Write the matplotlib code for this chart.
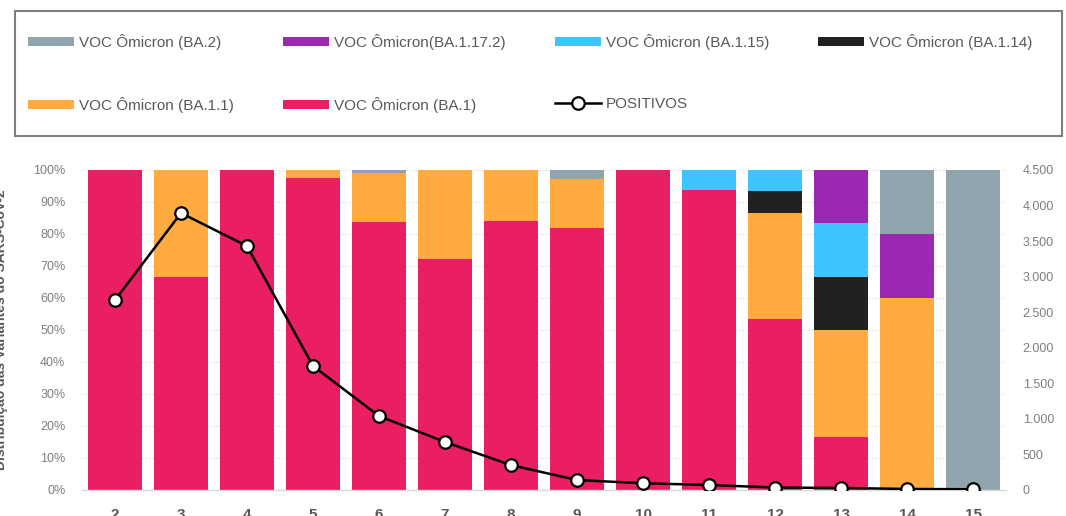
import numpy as np
import matplotlib
matplotlib.use("Agg")
import matplotlib.pyplot as plt
from matplotlib.patches import Rectangle
from matplotlib.ticker import FuncFormatter, MultipleLocator

plt.rcParams['font.family'] = ['Liberation Sans', 'DejaVu Sans']

# semanas epidemiológicas
semanas = [2, 3, 4, 5, 6, 7, 8, 9, 10, 11, 12, 13, 14, 15]

# distribuição (%) por variante, de baixo para cima
ba1 = [100, 66.7, 100, 97.6, 83.8, 72.2, 84.1, 82.0, 100, 93.9, 53.3, 16.7, 0, 0]
ba1_1 = [0, 33.3, 0, 2.4, 15.2, 27.8, 15.9, 15.1, 0, 0, 33.3, 33.3, 60, 0]
ba1_14 = [0, 0, 0, 0, 0, 0, 0, 0, 0, 0, 6.7, 16.7, 0, 0]
ba1_15 = [0, 0, 0, 0, 0, 0, 0, 0, 0, 6.1, 6.7, 16.7, 0, 0]
ba1_17_2 = [0, 0, 0, 0, 0, 0, 0, 0, 0, 0, 0, 16.6, 20, 0]
ba2 = [0, 0, 0, 0, 1.0, 0, 0, 2.9, 0, 0, 0, 0, 20, 100]

# número de positivos (eixo secundário)
positivos = [2670, 3895, 3430, 1745, 1040, 675, 350, 140, 95, 70, 35, 28, 15, 10]

series = [
    ("VOC Ômicron (BA.1)", ba1, "#E91E63"),
    ("VOC Ômicron (BA.1.1)", ba1_1, "#FFAB40"),
    ("VOC Ômicron (BA.1.14)", ba1_14, "#212121"),
    ("VOC Ômicron (BA.1.15)", ba1_15, "#40C4FF"),
    ("VOC Ômicron(BA.1.17.2)", ba1_17_2, "#9C27B0"),
    ("VOC Ômicron (BA.2)", ba2, "#90A4AE"),
]

W, H = 1066, 516
fig = plt.figure(figsize=(W / 100, H / 100), dpi=100)
ax = fig.add_axes([82 / W, (H - 490) / H, (1006 - 82) / W, 320 / H])

x = np.array(semanas)
base = np.zeros(len(semanas))
handles = {}
for nome, vals, cor in series:
    b = ax.bar(x, vals, width=0.83, bottom=base, color=cor, linewidth=0, label=nome)
    handles[nome] = b
    base += np.array(vals)

ax.set_xlim(1.5, 15.5)
ax.set_ylim(0, 100)
ax.yaxis.set_major_locator(MultipleLocator(10))
ax.yaxis.set_major_formatter(FuncFormatter(lambda v, p: f"{int(v)}%"))
ax.set_xticks(semanas)
ax.set_xticklabels([str(s) for s in semanas], fontsize=11, fontweight='bold', color='#595959')
ax.tick_params(axis='x', length=0, pad=13)
ax.tick_params(axis='y', length=0, labelsize=9, labelcolor='#7f7f7f', pad=12)
ax.grid(axis='y', linestyle=(0, (1, 2)), color='#d0d0d0', linewidth=0.8)
ax.set_axisbelow(True)
for s in ['top', 'right', 'left']:
    ax.spines[s].set_visible(False)
ax.spines['bottom'].set_color('#d9d9d9')
ax.spines['bottom'].set_linewidth(1.0)

ax2 = ax.twinx()
linha, = ax2.plot(x, positivos, color='black', linewidth=1.8, marker='o', markersize=9,
                  markerfacecolor='white', markeredgecolor='black', markeredgewidth=1.6,
                  label='POSITIVOS', zorder=5)
ax2.set_ylim(0, 4500)
ax2.yaxis.set_major_locator(MultipleLocator(500))
ax2.yaxis.set_major_formatter(FuncFormatter(lambda v, p: f"{int(v):,}".replace(",", ".")))
ax2.tick_params(axis='y', length=0, labelsize=9, labelcolor='#7f7f7f', pad=12)
for s in ['top', 'right', 'left', 'bottom']:
    ax2.spines[s].set_visible(False)

fig.text(1 / W, (H - 330) / H, "Distribuição das Variantes do SARS-CoV-2", rotation=90,
         ha='center', va='center', fontsize=10, fontweight='bold', color='#595959')

# legenda em linhas (matplotlib preenche por coluna)
ordem = ["VOC Ômicron (BA.2)", "VOC Ômicron (BA.1.1)",
         "VOC Ômicron(BA.1.17.2)", "VOC Ômicron (BA.1)",
         "VOC Ômicron (BA.1.15)", "POSITIVOS",
         "VOC Ômicron (BA.1.14)"]
handles["POSITIVOS"] = linha
leg = fig.legend([handles[n] for n in ordem], ordem, ncol=4, loc='upper left',
                 bbox_to_anchor=(22 / W, 1 - 28 / H), frameon=False, fontsize=11,
                 labelcolor='#595959', handlelength=3.0, handleheight=0.55,
                 handletextpad=0.35, columnspacing=3.2, labelspacing=3.05,
                 borderaxespad=0)
fig.add_artist(Rectangle((15 / W, 1 - 136 / H), (1062 - 15) / W, 125 / H,
                         transform=fig.transFigure, fill=False,
                         edgecolor='#7f7f7f', linewidth=1.5))

fig.savefig("out.png", dpi=100)
